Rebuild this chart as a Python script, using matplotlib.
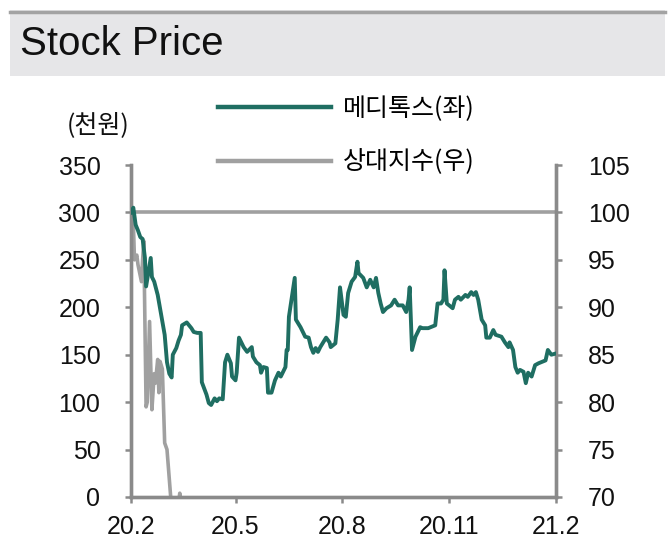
import matplotlib
matplotlib.use("Agg")
import matplotlib.pyplot as plt
import matplotlib.patches as patches
from matplotlib.lines import Line2D
import pandas as pd

# ============================================================
# Data
# ============================================================
price_dates = [
    "2020-02-01", "2020-02-03", "2020-02-05", "2020-02-07", "2020-02-09", "2020-02-11",
    "2020-02-13", "2020-02-14", "2020-02-17", "2020-02-18", "2020-02-19", "2020-02-21",
    "2020-02-24", "2020-02-27", "2020-03-01", "2020-03-03", "2020-03-05", "2020-03-07",
    "2020-03-08", "2020-03-11", "2020-03-13", "2020-03-15", "2020-03-16", "2020-03-20",
    "2020-03-24", "2020-03-26", "2020-03-29", "2020-04-01", "2020-04-02", "2020-04-06",
    "2020-04-08", "2020-04-10", "2020-04-13", "2020-04-15", "2020-04-17", "2020-04-20",
    "2020-04-22", "2020-04-24", "2020-04-27", "2020-04-28", "2020-05-01", "2020-05-02",
    "2020-05-04", "2020-05-08", "2020-05-11", "2020-05-15", "2020-05-16", "2020-05-19",
    "2020-05-22", "2020-05-23", "2020-05-25", "2020-05-28", "2020-05-29", "2020-06-01",
    "2020-06-04", "2020-06-07", "2020-06-09", "2020-06-13", "2020-06-14", "2020-06-15",
    "2020-06-16", "2020-06-21", "2020-06-22", "2020-06-26", "2020-06-30", "2020-07-03",
    "2020-07-05", "2020-07-07", "2020-07-09", "2020-07-11", "2020-07-13", "2020-07-15",
    "2020-07-18", "2020-07-21", "2020-07-22", "2020-07-26", "2020-07-28", "2020-07-30",
    "2020-08-02", "2020-08-04", "2020-08-06", "2020-08-09", "2020-08-12", "2020-08-14",
    "2020-08-15", "2020-08-19", "2020-08-22", "2020-08-25", "2020-08-28", "2020-08-30",
    "2020-09-01", "2020-09-03", "2020-09-05", "2020-09-08", "2020-09-12", "2020-09-15",
    "2020-09-18", "2020-09-22", "2020-09-25", "2020-09-27", "2020-09-28", "2020-09-30",
    "2020-10-03", "2020-10-07", "2020-10-09", "2020-10-14", "2020-10-16", "2020-10-20",
    "2020-10-22", "2020-10-25", "2020-10-27", "2020-10-28", "2020-10-30", "2020-11-04",
    "2020-11-06", "2020-11-09", "2020-11-11", "2020-11-15", "2020-11-17", "2020-11-20",
    "2020-11-22", "2020-11-24", "2020-11-26", "2020-11-29", "2020-12-02", "2020-12-03",
    "2020-12-06", "2020-12-09", "2020-12-11", "2020-12-16", "2020-12-19", "2020-12-22",
    "2020-12-23", "2020-12-26", "2020-12-28", "2020-12-30", "2021-01-01", "2021-01-04",
    "2021-01-06", "2021-01-08", "2021-01-11", "2021-01-14", "2021-01-17", "2021-01-19",
    "2021-01-23", "2021-01-25", "2021-01-28", "2021-01-31",
]
price_values = [
    300, 305, 287, 281, 274, 272,
    252, 222, 245, 252, 232, 227,
    213, 192, 171, 142, 130, 126,
    150, 157, 165, 171, 181, 184,
    178, 174, 173, 173, 121, 108,
    99, 97, 104, 101, 104, 103,
    142, 150, 141, 127, 123, 131,
    168, 158, 153, 158, 148, 142,
    139, 131, 137, 136, 110, 110,
    123, 131, 127, 137, 155, 155,
    190, 231, 187, 179, 169, 168,
    158, 152, 157, 153, 158, 162,
    168, 163, 158, 162, 187, 221,
    192, 190, 215, 227, 232, 248,
    236, 231, 221, 229, 221, 231,
    215, 204, 195, 199, 202, 208,
    202, 202, 195, 208, 221, 155,
    169, 179, 178, 178, 179, 181,
    204, 204, 208, 239, 204, 199,
    208, 211, 208, 213, 211, 216,
    213, 216, 208, 187, 181, 168,
    168, 176, 171, 169, 163, 158,
    163, 155, 137, 131, 134, 132,
    120, 131, 127, 139, 141, 142,
    144, 155, 150, 151,
]

rel_dates = [
    "2020-02-01", "2020-02-03", "2020-02-04", "2020-02-06", "2020-02-07", "2020-02-10",
    "2020-02-11", "2020-02-12", "2020-02-14", "2020-02-15", "2020-02-17", "2020-02-19",
    "2020-02-21", "2020-02-22", "2020-02-24", "2020-02-25", "2020-02-26", "2020-02-28",
    "2020-03-01", "2020-03-03", "2020-03-06", "2020-03-09", "2020-03-13", "2020-03-14",
    "2020-03-15", "2020-03-20", "2020-04-01", "2020-06-01", "2020-09-01", "2020-12-01",
    "2021-01-31",
]
rel_values = [
    100, 99, 95, 95.5, 94.5, 92.7,
    95, 97, 79.5, 80, 88.5, 79.2,
    83, 82, 84.5, 81, 84.3, 83.5,
    75.7, 75, 70.3, 66, 69.5, 70.4,
    69, 66, 62, 58, 55, 57,
    56,
]

x_tick_dates = ["2020-02-01", "2020-05-01", "2020-08-01", "2020-11-01", "2021-02-01"]
x_tick_labels = ["20.2", "20.5", "20.8", "20.11", "21.2"]
left_ticks = [0, 50, 100, 150, 200, 250, 300, 350]
right_ticks = [70, 75, 80, 85, 90, 95, 100, 105]

TEAL = "#1f6e62"
GRAY_LINE = "#a0a0a0"
AXIS_GRAY = "#8a8a8a"

NUM_FONT = ["Liberation Sans", "DejaVu Sans"]
KR_FONT = ["Noto Sans CJK KR", "DejaVu Sans"]

price_dt = pd.to_datetime(price_dates)
rel_dt = pd.to_datetime(rel_dates)
tick_dt = pd.to_datetime(x_tick_dates)

fig = plt.figure(figsize=(6.7, 5.58), dpi=100)

# Title band
fig.patches.append(patches.Rectangle((10 / 670, 1 - 76 / 558), 655 / 670, 66 / 558,
                                     transform=fig.transFigure, facecolor="#e6e6e8",
                                     edgecolor="none", zorder=0))
fig.add_artist(Line2D([10 / 670, 665 / 670], [1 - 11.5 / 558, 1 - 11.5 / 558],
                      transform=fig.transFigure, color="#a3a3a3", linewidth=2.5))
fig.text(20 / 670, 1 - 44 / 558, "Stock Price", fontsize=29, family=NUM_FONT,
         ha="left", va="center", color="#111111")

ax = fig.add_axes([131 / 670, 1 - 497 / 558, 425 / 670, 332 / 558])
ax2 = ax.twinx()

ax.plot(price_dt, price_values, color=TEAL, linewidth=2.8, zorder=3)
ax2.plot(rel_dt, rel_values, color=GRAY_LINE, linewidth=2.6, zorder=2)
ax2.axhline(100, color=GRAY_LINE, linewidth=2.6, zorder=1)

ax.set_zorder(ax2.get_zorder() + 1)
ax.patch.set_visible(False)

ax.set_xlim(tick_dt[0], tick_dt[-1])
ax.set_ylim(0, 350)
ax2.set_ylim(70, 105)
ax.set_xticks(tick_dt)
ax.set_xticklabels(x_tick_labels)
ax.set_yticks(left_ticks)
ax2.set_yticks(right_ticks)

for a in (ax, ax2):
    for side, sp in a.spines.items():
        if side == "top":
            sp.set_visible(False)
        else:
            sp.set_color(AXIS_GRAY)
            sp.set_linewidth(2.4)
    a.tick_params(colors=AXIS_GRAY, width=1.8, length=4, labelcolor="#111111",
                  labelsize=18)
    for lbl in a.get_xticklabels() + a.get_yticklabels():
        lbl.set_family(NUM_FONT)

ax.tick_params(axis="y", pad=18)
ax2.tick_params(axis="y", pad=19)
ax.tick_params(axis="x", pad=9)

fig.text(98 / 670, 1 - 125 / 558, "(천원)", fontsize=18, family=KR_FONT,
         ha="center", va="center", color="#111111")

# legend
legend_elements = [
    Line2D([0], [0], color=TEAL, linewidth=3.2, label="메디톡스(좌)"),
    Line2D([0], [0], color=GRAY_LINE, linewidth=3.2, label="상대지수(우)"),
]
fig.legend(handles=legend_elements, loc="upper left",
           bbox_to_anchor=(218 / 670, 1 - 96 / 558), frameon=False,
           prop={"family": KR_FONT, "size": 18}, handlelength=4.5,
           handletextpad=0.5, labelspacing=1.1, borderpad=0, borderaxespad=0)

plt.savefig("out.png", dpi=100)
